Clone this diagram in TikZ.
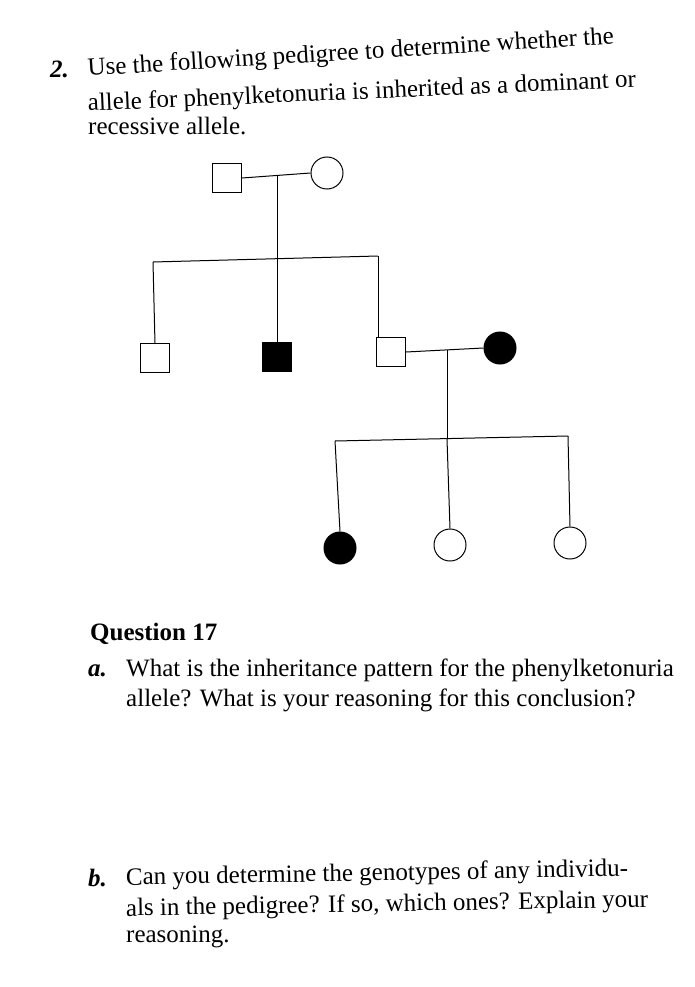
\documentclass[tikz,border=0pt]{standalone}
\usepackage{fontspec}
\setmainfont{Liberation Serif}
\begin{document}
\begin{tikzpicture}[x=1pt,y=-1pt,
  txt/.style={anchor=base west,inner sep=0pt,font=\fontsize{25}{28}\selectfont},
  bf/.style={font=\bfseries\fontsize{25}{28}\selectfont},
  bfi/.style={font=\bfseries\itshape\fontsize{25}{28}\selectfont},
  male/.style={draw,line width=1pt,minimum size=29pt,inner sep=0pt},
  female/.style={draw,circle,line width=1pt,minimum size=32pt,inner sep=0pt},
  aff/.style={fill=black},
  ln/.style={line width=1pt}]
\useasboundingbox (0,0) rectangle (695,987);
\node[txt,bfi] at (50,78) {2.};
\node[txt,rotate=3.5] (l1) at (88,76) {Use the following pedigree to determine whether the};
\node[txt,rotate=2.5] (l2) at (88,111) {allele for phenylketonuria is inherited as a dominant or};
\node[txt] (l3) at (88,135) {recessive allele.};
% generation I
\node[male] (I1) at (227,178) {};
\node[female] (I2) at (327,173) {};
\draw[ln] (I1.east) -- (I2.west);
\coordinate (m1) at (277,176);
\coordinate (s1) at (277,259);
\coordinate (sL) at (153,262);
\coordinate (sR) at (378,256);
\draw[ln] (m1) -- (s1);
\draw[ln] (sL) -- (sR);
% generation II
\node[male] (II1) at (155,358) {};
\node[male,aff] (II2) at (277,357) {};
\node[male] (II3) at (391,352) {};
\node[female,aff] (II4) at (500,348) {};
\draw[ln] (sL) -- (155,344);
\draw[ln] (s1) -- (II2.north);
\draw[ln] (sR) -- (378,338);
\draw[ln] (II3.east) -- (II4.west);
\coordinate (m2) at (447,350);
\coordinate (t1) at (447,439);
\coordinate (tL) at (335,441);
\coordinate (tR) at (568,436);
\draw[ln] (m2) -- (t1);
\draw[ln] (tL) -- (tR);
% generation III
\node[female,aff] (III1) at (340,548) {};
\node[female] (III2) at (450,545) {};
\node[female] (III3) at (570,543) {};
\draw[ln] (tL) -- (III1.north);
\draw[ln] (t1) -- (III2.north);
\draw[ln] (tR) -- (III3.north);
% questions
\node[txt,bf] (q) at (90,640) {Question 17};
\node[txt,bfi] at (88,676) {a.};
\node[txt] at (126,676) {What is the inheritance pattern for the phenylketonuria};
\node[txt] at (126,706) {allele? What is your reasoning for this conclusion?};
\node[txt,bfi] at (88,886) {b.};
\node[txt,rotate=1] at (126,885) {Can you determine the genotypes of any individu-};
\node[txt,rotate=1] at (126,916) {als in the pedigree? If so, which ones? Explain your};
\node[txt] at (126,942) {reasoning.};
\end{tikzpicture}
\end{document}
